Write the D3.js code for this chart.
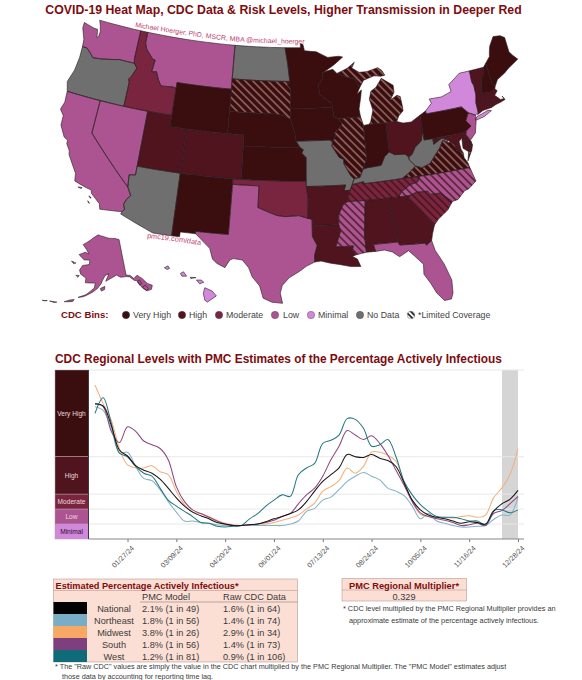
<!DOCTYPE html>
<html>
<head>
<meta charset="utf-8">
<script src="https://cdn.jsdelivr.net/npm/d3@7"></script>
<style>
  html, body { margin: 0; padding: 0; background: #fff; }
  svg { display: block; font-family: "Liberation Sans", Arial, sans-serif; }
</style>
</head>
<body>
<div id="chart"></div>
<script>
// ---------- map data ----------
var binNames = ["Very High", "High", "Moderate", "Low", "Minimal", "No Data"];
var binColors = ["#3a0e0f", "#50141e", "#7a2540", "#ab5491", "#d188da", "#6f6f6f"];

var veryHighStates = ["WY", "NM", "SD", "NE", "KS", "MN", "IA", "WI", "IL", "MI", "IN", "PA", "VA", "NH", "ME"];
var highStates = ["UT", "CO", "AR", "LA", "AL", "GA", "OH", "VT", "MA", "RI", "CT", "DE", "MD", "DC"];
var moderateStates = ["ID", "OK", "TN", "SC"];
var lowStates = ["WA", "CA", "NV", "MT", "TX", "MS", "FL", "NC", "NJ", "AK"];
var minimalStates = ["NY", "HI"];
var noDataStates = ["OR", "AZ", "ND", "MO", "KY", "WV"];
var limitedCoverage = ["SD", "IL", "MI", "VA", "TN", "NC", "SC", "MS"];
var insetStates = ["AK", "HI"];

// rough state outlines, [lon, lat]
var stateOutlines = {
  WA: [[[-124.7,48.4],[-123.2,48.15],[-122.75,48.15],[-122.5,47.4],[-122.35,47.5],[-122.3,48],[-122.5,48.5],[-122.8,49],[-117.03,49],[-117.04,46.4],[-116.92,45.99],[-119,46],[-119.3,45.93],[-121.2,45.65],[-122.3,45.55],[-122.8,45.9],[-123.4,46.25],[-124,46.25],[-124.1,46.9],[-124.7,47.9]]],
  OR: [[[-124,46.25],[-123.4,46.25],[-122.8,45.9],[-122.3,45.55],[-121.2,45.65],[-119.3,45.93],[-119,46],[-116.92,45.99],[-116.47,45.6],[-116.85,44.9],[-117.2,44.45],[-117.03,44.2],[-117.03,42],[-124.2,42],[-124.55,42.85],[-124.1,44],[-123.95,45.2]]],
  CA: [[[-124.2,42],[-120,42],[-120,39],[-114.63,35],[-114.13,34.3],[-114.5,33.9],[-114.72,33.4],[-114.5,33],[-114.72,32.72],[-117.12,32.53],[-117.3,33],[-118.4,33.75],[-118.5,34.03],[-119.2,34.15],[-120.5,34.45],[-120.65,35.15],[-121.9,36.6],[-122,36.95],[-122.5,37.5],[-122.5,37.8],[-123,38],[-123.75,38.95],[-123.8,39.8],[-124.35,40.3],[-124.1,41]],
       [[-120,34],[-119.55,34.05],[-119.6,33.95]],[[-118.6,33.48],[-118.3,33.35],[-118.4,33.3]],[[-118.6,33.02],[-118.35,32.83],[-118.45,32.85]]],
  NV: [[[-120,42],[-114.04,42],[-114.04,36.2],[-114.75,36.1],[-114.63,35],[-120,39]]],
  ID: [[[-117.03,49],[-116.05,49],[-116.05,48],[-115.7,47.45],[-114.7,46.7],[-114.35,46.65],[-114.5,45.55],[-113.9,45.65],[-113.45,44.95],[-113,44.45],[-111.5,44.55],[-111.05,44.48],[-111.05,42],[-117.03,42],[-117.03,44.2],[-117.2,44.45],[-116.85,44.9],[-116.47,45.6],[-116.92,45.99],[-117.04,46.4]]],
  MT: [[[-116.05,49],[-104.05,49],[-104.05,45],[-111.05,45],[-111.05,44.48],[-111.5,44.55],[-113,44.45],[-113.45,44.95],[-113.9,45.65],[-114.5,45.55],[-114.35,46.65],[-114.7,46.7],[-115.7,47.45],[-116.05,48]]],
  WY: [[[-111.05,45],[-104.05,45],[-104.05,41],[-111.05,41]]],
  UT: [[[-114.04,42],[-111.05,42],[-111.05,41],[-109.05,41],[-109.05,37],[-114.04,37]]],
  CO: [[[-109.05,41],[-102.05,41],[-102.05,37],[-109.05,37]]],
  AZ: [[[-114.04,37],[-109.05,37],[-109.05,31.33],[-111.07,31.33],[-114.82,32.5],[-114.72,32.72],[-114.5,33],[-114.72,33.4],[-114.5,33.9],[-114.13,34.3],[-114.63,35],[-114.75,36.1],[-114.04,36.2]]],
  NM: [[[-109.05,37],[-103,37],[-103.05,32],[-106.62,32],[-106.53,31.78],[-108.2,31.78],[-108.2,31.33],[-109.05,31.33]]],
  ND: [[[-104.05,49],[-97.23,49],[-96.85,47.5],[-96.56,45.94],[-104.05,45.94]]],
  SD: [[[-104.05,45.94],[-96.56,45.94],[-96.85,45.6],[-96.45,45.3],[-96.45,43.5],[-96.45,42.5],[-97.2,42.85],[-98.5,43],[-104.05,43]]],
  NE: [[[-104.05,43],[-98.5,43],[-97.2,42.85],[-96.45,42.5],[-96.1,41.7],[-95.9,41.2],[-95.77,40.58],[-95.3,40],[-102.05,40],[-102.05,41],[-104.05,41]]],
  KS: [[[-102.05,40],[-95.3,40],[-94.9,39.8],[-95.1,39.5],[-94.6,39.1],[-94.62,37],[-102.05,37]]],
  OK: [[[-103,37],[-94.62,37],[-94.62,36.5],[-94.43,35.4],[-94.48,33.64],[-95.5,33.9],[-97,33.8],[-97.9,33.9],[-99.2,34.3],[-100,34.56],[-100,36.5],[-103,36.5]]],
  TX: [[[-106.62,32],[-103.05,32],[-103,36.5],[-100,36.5],[-100,34.56],[-99.2,34.3],[-97.9,33.9],[-97,33.8],[-95.5,33.9],[-94.48,33.64],[-94.04,33.55],[-94.04,32],[-93.55,31.2],[-93.85,30.3],[-93.85,29.7],[-94.7,29.35],[-95.5,28.85],[-96.5,28.3],[-97.2,27.6],[-97.4,26.9],[-97.15,25.97],[-98.2,26.05],[-99.1,26.4],[-99.5,27.5],[-100.3,28.3],[-100.7,29.1],[-101.4,29.77],[-102.35,29.85],[-102.7,29.7],[-103.15,28.98],[-104,29.3],[-104.5,29.65],[-104.9,30.6],[-106.53,31.78]]],
  MN: [[[-97.23,49],[-95.15,49],[-95.15,49.38],[-94.8,49.3],[-94.6,48.72],[-93,48.6],[-91.5,48.05],[-90,48.1],[-89.5,48],[-90.8,47.3],[-92.1,46.75],[-92.3,46.65],[-92.3,46.1],[-92.85,45.6],[-92.75,44.75],[-91.25,43.85],[-91.22,43.5],[-96.45,43.5],[-96.45,45.3],[-96.85,45.6],[-96.56,45.94],[-96.85,47.5]]],
  IA: [[[-96.45,43.5],[-91.22,43.5],[-91.1,42.7],[-90.65,42.5],[-90.15,42.1],[-90.3,41.75],[-91.1,41.2],[-91,40.9],[-91.4,40.4],[-91.73,40.6],[-95.77,40.58],[-95.9,41.2],[-96.1,41.7],[-96.45,42.5]]],
  MO: [[[-95.77,40.58],[-91.73,40.6],[-91.4,40.4],[-91.5,40.05],[-90.7,39],[-90.2,38.8],[-90.2,38.4],[-89.5,37.3],[-89.15,37],[-89.4,36.5],[-89.7,36],[-90.37,36],[-90.15,36.5],[-94.62,36.5],[-94.62,37],[-94.6,39.1],[-95.1,39.5],[-94.9,39.8],[-95.3,40]]],
  AR: [[[-94.62,36.5],[-90.15,36.5],[-90.37,36],[-89.7,36],[-90.1,35],[-90.6,34.7],[-91.1,33.9],[-91.17,33],[-94.04,33],[-94.04,33.55],[-94.48,33.64],[-94.43,35.4]]],
  LA: [[[-94.04,33],[-91.17,33],[-91,32.4],[-91.6,31],[-89.75,31],[-89.85,30.65],[-89.5,30.18],[-89.9,30.05],[-89.4,29.8],[-89.1,29.1],[-90.1,29.15],[-91.3,29.4],[-92.2,29.55],[-93.2,29.78],[-93.85,29.7],[-93.85,30.3],[-93.55,31.2],[-94.04,32]]],
  MS: [[[-90.1,35],[-88.2,35],[-88.1,34.9],[-88.47,31.9],[-88.4,30.35],[-89.5,30.18],[-89.85,30.65],[-89.75,31],[-91.6,31],[-91,32.4],[-91.17,33],[-91.1,33.9],[-90.6,34.7]]],
  AL: [[[-88.2,35],[-85.6,35],[-85.18,32.87],[-85,32.3],[-85,31],[-87.6,31],[-87.45,30.35],[-88.4,30.35],[-88.47,31.9],[-88.1,34.9]]],
  GA: [[[-85.6,35],[-83.1,35],[-83.35,34.7],[-82.9,34.45],[-82,33.5],[-81.4,32.6],[-80.9,32.05],[-81.25,31.3],[-81.45,30.72],[-82.05,30.37],[-82.2,30.57],[-84.85,30.7],[-85,31],[-85,32.3],[-85.18,32.87]]],
  FL: [[[-87.6,31],[-85,31],[-84.85,30.7],[-82.2,30.57],[-82.05,30.37],[-81.45,30.72],[-81.25,29.8],[-80.55,28.45],[-80.05,26.9],[-80.15,25.7],[-80.4,25.2],[-81.1,25.15],[-81.75,25.95],[-82.2,26.9],[-82.75,27.8],[-82.65,28.7],[-83.4,29.5],[-84,30.1],[-85,29.65],[-85.7,30.15],[-86.5,30.4],[-87.45,30.35]]],
  SC: [[[-83.35,34.7],[-83.1,35],[-82.3,35.2],[-81.05,35.15],[-80.8,34.82],[-79.67,34.8],[-78.55,33.86],[-79.2,33.2],[-80.4,32.5],[-80.9,32.05],[-81.4,32.6],[-82,33.5],[-82.9,34.45]]],
  NC: [[[-84.32,35],[-83.1,35],[-82.3,35.2],[-81.05,35.15],[-80.8,34.82],[-79.67,34.8],[-78.55,33.86],[-77.9,33.95],[-77,34.6],[-76.5,34.7],[-75.55,35.25],[-75.9,36.55],[-81.68,36.59],[-82,36.1],[-82.9,35.95],[-84,35.4]]],
  TN: [[[-90.1,35],[-84.32,35],[-84,35.4],[-82.9,35.95],[-82,36.1],[-81.68,36.59],[-83.68,36.6],[-88.07,36.5],[-88.07,36.68],[-89.4,36.5],[-89.7,36]]],
  KY: [[[-89.4,36.5],[-88.07,36.68],[-88.07,36.5],[-83.68,36.6],[-82.85,37],[-81.97,37.54],[-82.6,38.17],[-82.6,38.42],[-83,38.73],[-84.2,38.8],[-84.8,39.1],[-85.4,38.73],[-85.9,38],[-86.5,37.95],[-87.5,37.9],[-88.05,37.8],[-88.45,37.1],[-89.15,37]]],
  VA: [[[-83.68,36.6],[-81.68,36.59],[-75.9,36.55],[-76,37],[-76.3,37.5],[-76.3,37.95],[-77,38.3],[-77.05,38.84],[-77.5,39.1],[-77.83,39.13],[-78.35,39.4],[-78.87,38.77],[-79.3,38.42],[-80.3,37.55],[-81.3,37.3],[-81.97,37.54],[-82.85,37]],
       [[-75.95,37.15],[-75.6,37.6],[-75.25,38.03],[-75.65,37.95]]],
  WV: [[[-82.6,38.42],[-82.6,38.17],[-81.97,37.54],[-81.3,37.3],[-80.3,37.55],[-79.3,38.42],[-78.87,38.77],[-78.35,39.4],[-77.83,39.13],[-77.72,39.32],[-78.4,39.62],[-79.48,39.2],[-79.48,39.72],[-80.52,39.72],[-80.52,40.64],[-80.85,39.7],[-81.7,39.2],[-82.2,38.6]]],
  OH: [[[-84.8,39.1],[-84.2,38.8],[-83,38.73],[-82.6,38.42],[-82.2,38.6],[-81.7,39.2],[-80.85,39.7],[-80.52,40.64],[-80.52,41.98],[-81.7,41.5],[-82.7,41.5],[-83.45,41.73],[-84.8,41.7]]],
  IN: [[[-88.05,37.8],[-87.5,37.9],[-86.5,37.95],[-85.9,38],[-85.4,38.73],[-84.8,39.1],[-84.8,41.7],[-86.8,41.76],[-87.52,41.7],[-87.53,39.35],[-87.5,38.7]]],
  IL: [[[-91.5,40.05],[-91.4,40.4],[-91,40.9],[-91.1,41.2],[-90.3,41.75],[-90.15,42.1],[-90.65,42.5],[-87.8,42.5],[-87.52,41.7],[-87.53,39.35],[-87.5,38.7],[-88.05,37.8],[-88.45,37.1],[-89.15,37],[-89.5,37.3],[-90.2,38.4],[-90.2,38.8],[-90.7,39]]],
  WI: [[[-92.75,44.75],[-92.85,45.6],[-92.3,46.1],[-92.3,46.65],[-92.1,46.75],[-90.9,46.95],[-90.4,46.55],[-89.1,46.15],[-88.1,45.9],[-87.6,45.1],[-88,44.55],[-87.4,44.9],[-87.55,44.3],[-87.9,43.2],[-87.8,42.5],[-90.65,42.5],[-91.1,42.7],[-91.22,43.5],[-91.25,43.85]]],
  MI: [[[-86.8,41.76],[-84.8,41.7],[-83.45,41.73],[-83.1,42.2],[-82.5,42.6],[-82.5,43],[-82.6,43.9],[-83,44.05],[-83.9,43.7],[-83.3,44.35],[-83.3,45],[-84.7,45.75],[-85.5,45],[-86.2,44.7],[-86.5,44],[-86.2,43],[-86.6,42]],
       [[-90.4,46.55],[-89.1,46.15],[-88.1,45.9],[-87.6,45.1],[-87,45.75],[-85.6,46.05],[-84.7,45.95],[-84.2,46],[-84.5,46.45],[-85,46.75],[-86.5,46.5],[-87.5,46.5],[-88.4,46.95],[-88,47.45],[-89,46.95]]],
  PA: [[[-80.52,39.72],[-75.79,39.72],[-75.42,39.8],[-75.1,39.95],[-74.72,40.15],[-75.2,40.7],[-74.7,41.36],[-75.35,42],[-79.76,42],[-79.76,42.27],[-80.52,41.98]]],
  NY: [[[-79.76,42],[-75.35,42],[-74.7,41.36],[-73.9,41],[-73.5,41.2],[-73.5,42.05],[-73.27,42.75],[-73.25,43.6],[-73.4,44],[-73.35,45],[-74.7,45],[-76.3,44.2],[-76.2,43.55],[-77.5,43.25],[-79.05,43.27],[-78.9,42.85],[-79.76,42.27]],
       [[-74.05,40.6],[-73.75,40.85],[-72.3,41.15],[-71.9,41.05],[-72.9,40.7],[-73.9,40.55]]],
  NJ: [[[-75.42,39.8],[-75.55,39.5],[-75.1,38.95],[-74.4,39.45],[-74,40.45],[-73.9,41],[-74.7,41.36],[-75.2,40.7],[-74.72,40.15],[-75.1,39.95]]],
  DE: [[[-75.79,39.72],[-75.42,39.8],[-75.55,39.5],[-75.1,38.8],[-75.05,38.45],[-75.7,38.46]]],
  MD: [[[-79.48,39.72],[-75.79,39.72],[-75.7,38.46],[-75.05,38.45],[-75.25,38.03],[-75.65,37.95],[-76.2,38.35],[-76.1,39.3],[-76.5,39],[-76.45,38.3],[-76.3,37.95],[-77,38.3],[-77.05,38.84],[-77.5,39.1],[-77.72,39.32],[-78.4,39.62],[-79.48,39.2]]],
  DC: [[[-77.12,38.93],[-77.04,39],[-76.91,38.89],[-77.04,38.79]]],
  CT: [[[-73.5,42.05],[-71.8,42.02],[-71.8,41.32],[-72.9,41.25],[-73.65,41],[-73.5,41.2]]],
  RI: [[[-71.8,42.02],[-71.38,42.02],[-71.12,41.5],[-71.8,41.32]]],
  MA: [[[-73.5,42.05],[-73.27,42.75],[-71.3,42.7],[-70.82,42.87],[-70.6,42.65],[-71.05,42.3],[-70.65,41.95],[-70.5,41.8],[-70.05,41.8],[-70.2,42.07],[-69.95,41.7],[-70.65,41.55],[-71.12,41.5],[-71.38,42.02],[-71.8,42.02]]],
  VT: [[[-73.35,45],[-71.5,45],[-71.6,44.5],[-72.05,44.1],[-72.45,43],[-72.46,42.73],[-73.27,42.75],[-73.25,43.6],[-73.4,44]]],
  NH: [[[-71.5,45],[-71.08,45.3],[-70.98,43.4],[-70.7,43.07],[-70.82,42.87],[-71.3,42.7],[-72.46,42.73],[-72.45,43],[-72.05,44.1],[-71.6,44.5]]],
  ME: [[[-71.08,45.3],[-70.4,45.8],[-70.25,46.2],[-70,46.7],[-69.23,47.45],[-68.3,47.35],[-67.8,47.07],[-67.8,45.7],[-67.45,45.3],[-67,44.85],[-68.5,44.3],[-69.1,44],[-70.2,43.6],[-70.7,43.07],[-70.98,43.4]]],
  AK: [[[-141,69.65],[-143.5,70.1],[-148.5,70.4],[-152,70.85],[-156.6,71.35],[-160,70.5],[-163,69.5],[-166.7,68.35],[-163.8,67.2],[-162,66.2],[-164.5,66.5],[-168,65.6],[-164.5,64.5],[-161,64.6],[-161,63.5],[-164.8,63],[-166,61.7],[-165,60.7],[-162,59.9],[-162,58.7],[-158.5,58.8],[-157,58.8],[-157.5,57.5],[-161,55.7],[-164.5,54.7],[-162,55.1],[-158,56.5],[-156,57.4],[-154,58.8],[-153.5,59.5],[-152,60.8],[-150,61.2],[-151.8,59.3],[-149,60],[-146,60.7],[-144,60],[-141,59.9],[-139.5,59.7],[-137.5,58.5],[-136,58.2],[-135.5,57],[-134.5,55.9],[-133,55],[-131,55],[-130,55.9],[-131.9,56.8],[-133.5,58.4],[-135.5,59.6],[-137.5,59],[-139,60],[-141,60.3]],
       [[-154.5,57.5],[-152.3,58],[-152.5,57.2],[-154,56.8]],[[-171.5,63.5],[-168.8,63.3],[-170,63]],[[-167.4,60.2],[-165.7,60.3],[-166.2,59.8]],
       [[-170,52.9],[-168,53.6],[-166,54],[-166.5,53.4]],[[-176,52],[-173,52.3],[-174,52]],[[-179,51.5],[-177,51.9],[-178,51.6]],
       [[-134.5,56.3],[-133,56.5],[-132.2,55.5],[-133.2,55.1],[-133.8,55.5]],[[-136.3,58],[-135,58.3],[-134.5,57.2],[-135.6,57]]],
  HI: [[[-155.9,20.25],[-155.2,19.95],[-154.8,19.5],[-155.65,18.95],[-155.9,19.1],[-156.05,19.75]],
       [[-156.7,20.95],[-156.25,20.95],[-156,20.75],[-156.4,20.6]],[[-158.25,21.55],[-157.95,21.7],[-157.65,21.3],[-158.1,21.3]],
       [[-159.8,22.05],[-159.45,22.23],[-159.3,22],[-159.55,21.9]],[[-157.3,21.2],[-156.75,21.17],[-157.25,21.08]]]
};

// ---------- trend data, CDC wastewater level per week ----------
var firstWeek = new Date(2023, 11, 30);
var tickDates = ["01/27/24", "03/09/24", "04/20/24", "06/01/24", "07/13/24", "08/24/24", "10/05/24", "11/16/24", "12/28/24"];

var nationalLevels = [18.1,17.8,15.2,11.9,11.1,9.8,9.2,8.8,8.0,6.8,5.5,4.4,3.6,3.1,2.7,2.2,2.0,1.8,1.8,1.9,2.0,2.3,2.7,3.0,3.4,3.9,5.0,6.4,7.7,8.6,9.5,11.3,11.0,10.9,11.3,10.8,10.5,9.7,7.5,5.2,3.9,3.2,2.9,2.7,2.4,2.1,2.3,2.2,2.0,3.7,4.7,5.3,6.5];
var northeastLevels = [17.7,17.2,14.8,11.5,11.6,9.7,8.1,7.8,6.6,5.0,3.6,2.4,2.4,2.2,2.1,1.9,1.8,1.8,1.8,1.8,1.8,1.8,1.8,1.8,2.0,2.4,3.7,4.1,5.2,5.6,6.6,7.7,8.4,8.9,8.4,7.9,6.8,6.4,5.8,4.4,2.7,3.4,2.4,2.1,1.8,1.6,1.6,1.7,1.8,2.6,3.2,3.2,5.6];
var midwestLevels = [20.6,18.1,15.9,12.1,9.9,9.5,9.5,9.8,9.0,8.6,6.4,4.6,3.6,3.4,3.0,2.5,2.1,1.9,1.8,1.9,2.0,2.0,2.2,2.5,2.8,3.2,4.0,4.8,6.4,7.0,7.8,9.5,8.8,9.7,11.6,11.6,11.2,10.4,7.5,5.0,3.3,3.0,2.8,2.9,2.8,3.0,3.1,2.9,3.2,5.5,6.8,8.6,12.1];
var southLevels = [18.1,17.7,14.4,12.9,15.0,14.4,13.1,12.6,12.1,10.6,7.0,5.0,3.9,3.4,2.9,2.4,2.0,1.8,1.8,1.9,2.0,2.2,2.5,3.0,3.4,4.7,5.9,6.8,8.4,10.6,12.4,14.5,13.9,13.3,13.8,12.8,11.2,9.2,7.2,5.0,3.5,3.0,2.7,2.5,2.2,1.8,1.9,2.1,1.8,3.4,3.8,4.7,5.7];
var westLevels = [16.8,18.9,15.5,11.5,11.0,9.7,8.8,8.4,6.8,5.2,4.4,3.7,3.0,2.2,2.1,1.7,1.6,1.7,1.8,2.7,3.4,4.4,5.2,5.9,5.7,8.6,9.5,10.1,12.8,13.2,13.9,16.1,16.0,14.8,12.4,12.6,13.3,11.0,7.7,5.9,4.6,3.7,3.0,2.9,2.9,2.7,2.4,2.4,1.9,3.8,3.9,3.5,3.9];

var lineNames = ["Northeast", "Midwest", "South", "West", "National"];
var lineColors = ["#83b3c6", "#f3b07c", "#8a4a84", "#24797f", "#1c1416"];
var lineLevels = [northeastLevels, midwestLevels, southLevels, westLevels, nationalLevels];

var levelBreaks = [22.6, 11, 6, 4, 2, 0];
var levelNames = ["Very High", "High", "Moderate", "Low", "Minimal"];

// ---------- table data ----------
var regionNames = ["National", "Northeast", "Midwest", "South", "West"];
var regionColors = ["#000000", "#78aec5", "#f6a864", "#7f3f7e", "#0f6b78"];
var pmcModelText = ["2.1% (1 in 49)", "1.8% (1 in 56)", "3.8% (1 in 26)", "1.8% (1 in 56)", "1.2% (1 in 81)"];
var rawCdcText = ["1.6% (1 in 64)", "1.4% (1 in 74)", "2.9% (1 in 34)", "1.4% (1 in 73)", "0.9% (1 in 106)"];

var darkRed = "#7d0c10";
var bodyText = "#3a3a3a";

var svg = d3.select("#chart").append("svg").attr("width", 582).attr("height", 680);

function addText(x, y, txt, size, color, weight, anchor)
{
    return svg.append("text").attr("x", x).attr("y", y).text(txt)
        .attr("font-size", size).attr("fill", color)
        .attr("font-weight", weight || "normal")
        .attr("text-anchor", anchor || "start");
}

// ---------- hatch patterns ----------
var defs = svg.append("defs");
function addHatch(id, color, width)
{
    defs.append("pattern").attr("id", id)
        .attr("patternUnits", "userSpaceOnUse").attr("width", 5.4).attr("height", 5.4)
        .attr("patternTransform", "rotate(45)")
      .append("line").attr("x1", 0).attr("x2", 5.4).attr("y1", 2.7).attr("y2", 2.7)
        .attr("stroke", color).attr("stroke-width", width);
}
addHatch("hatchLight", "#c49a92", 1);
addHatch("hatchDark", "#3a0e0f", 1.2);

// ---------- map ----------
addText(283.5, 14, "COVID-19 Heat Map, CDC Data & Risk Levels, Higher Transmission in Deeper Red", 12.3, darkRed, "bold", "middle");

var binLists = [veryHighStates, highStates, moderateStates, lowStates, minimalStates, noDataStates];
function binOf(code)
{
    return binLists.findIndex(function (list) { return list.indexOf(code) >= 0; });
}

// long straight borders have to follow the parallels, so add points along them
function densify(ring)
{
    var out = [];
    ring.forEach(function (p, i) {
        var q = ring[(i + 1) % ring.length];
        var n = Math.max(1, Math.ceil(Math.abs(q[0] - p[0])));
        d3.range(n).forEach(function (k) {
            out.push([p[0] + (q[0] - p[0]) * k / n, p[1] + (q[1] - p[1]) * k / n]);
        });
    });
    out.push(out[0]);
    return out;
}

function ringFeature(ring)
{
    var poly = {type: "Polygon", coordinates: [densify(ring)]};
    if (d3.geoArea(poly) > 2 * Math.PI) poly.coordinates[0].reverse();
    return poly;
}

var stateFeatures = Object.keys(stateOutlines).map(function (code) {
    return {
        type: "Feature",
        properties: {code: code, bin: binOf(code)},
        geometry: {type: "GeometryCollection", geometries: stateOutlines[code].map(ringFeature)}
    };
});

var mainPath = d3.geoPath(d3.geoAlbersUsa().scale(634).translate([289, 162]));
var insetPath = d3.geoPath(d3.geoAlbersUsa().scale(634).translate([292, 157]));
function statePath(d)
{
    return insetStates.indexOf(d.properties.code) >= 0 ? insetPath(d) : mainPath(d);
}

var mapLayer = svg.append("g");

mapLayer.selectAll("path.state").data(stateFeatures).join("path")
    .attr("class", "state")
    .attr("d", statePath)
    .attr("fill", function (d) { return binColors[d.properties.bin]; });

mapLayer.selectAll("path.hatch")
    .data(stateFeatures.filter(function (d) { return limitedCoverage.indexOf(d.properties.code) >= 0; }))
    .join("path")
    .attr("class", "hatch")
    .attr("d", statePath)
    .attr("fill", function (d) { return d.properties.bin === 0 ? "url(#hatchLight)" : "url(#hatchDark)"; });

mapLayer.selectAll("path.border").data(stateFeatures).join("path")
    .attr("class", "border")
    .attr("d", statePath)
    .attr("fill", "none")
    .attr("stroke", "#2a1a1c")
    .attr("stroke-width", 0.6)
    .attr("stroke-linejoin", "round");

// credit lines on the map
var creditCurve = d3.line().curve(d3.curveBasis);
defs.append("path").attr("id", "creditPath").attr("d", creditCurve([[135, 27], [185, 35], [240, 43], [312, 44]]));
defs.append("path").attr("id", "siteCurve").attr("d", creditCurve([[147, 238], [175, 241], [205, 246]]));
svg.append("text").attr("font-size", 6.9).attr("fill", "#c0406e")
  .append("textPath").attr("href", "#creditPath").text("Michael Hoerger, PhD, MSCR, MBA @michael_hoerger");
svg.append("text").attr("font-size", 7.3).attr("fill", "#c0406e")
  .append("textPath").attr("href", "#siteCurve").text("pmc19.com/data");

// legend
addText(61, 318, "CDC Bins:", 9.6, darkRed, "bold");
var legendDots = [126, 182, 219, 275, 311, 360];
var legendText = [133, 189, 226, 283, 318, 367];
binNames.forEach(function (name, i) {
    svg.append("circle").attr("cx", legendDots[i]).attr("cy", 315).attr("r", 3.7)
        .attr("fill", binColors[i]).attr("stroke", "#444").attr("stroke-width", 0.4);
    addText(legendText[i], 318, name, 8.8, "#444");
});
defs.append("pattern").attr("id", "hatchKey")
    .attr("patternUnits", "userSpaceOnUse").attr("width", 3.6).attr("height", 3.6)
    .attr("patternTransform", "rotate(45)")
  .append("line").attr("x1", 0).attr("x2", 3.6).attr("y1", 1.8).attr("y2", 1.8)
    .attr("stroke", "#222").attr("stroke-width", 1.7);
svg.append("circle").attr("cx", 411).attr("cy", 315).attr("r", 3.8)
    .attr("fill", "url(#hatchKey)").attr("stroke", "#555").attr("stroke-width", 0.4);
addText(418, 318, "*Limited Coverage", 8.8, "#444");

// ---------- trend chart ----------
addText(55, 363, "CDC Regional Levels with PMC Estimates of the Percentage Actively Infectious", 11.9, darkRed, "bold");

var plot = {left: 88.5, right: 524, top: 370, bottom: 539};
var weekDates = nationalLevels.map(function (v, i) { return d3.timeDay.offset(firstWeek, 7 * i); });
var parseTick = d3.timeParse("%m/%d/%y");
var formatTick = d3.timeFormat("%m/%d/%y");

var x = d3.scaleTime().domain([firstWeek, weekDates[weekDates.length - 1]]).range([95, 518]);
var y = d3.scaleLinear().domain([0, 22.6]).range([plot.bottom, plot.top]);

// level blocks on the left
levelNames.forEach(function (name, i) {
    var top = y(levelBreaks[i]), bottom = y(levelBreaks[i + 1]);
    svg.append("rect").attr("x", 55).attr("width", plot.left - 55)
        .attr("y", top).attr("height", bottom - top)
        .attr("fill", binColors[i])
        .attr("stroke", "#b69aa4").attr("stroke-width", 0.5);
    addText(71.5, (top + bottom) / 2 + 2.5, name, 6.6, i === 4 ? "#2a1030" : "#ead9dc", "normal", "middle");
});

// recent weeks still being revised
svg.append("rect").attr("x", 502).attr("width", 16)
    .attr("y", plot.top).attr("height", plot.bottom - plot.top)
    .attr("fill", "#d5d5d5");

svg.append("g").selectAll("line").data(levelBreaks.slice(0, 5)).join("line")
    .attr("x1", plot.left).attr("x2", plot.right)
    .attr("y1", function (d) { return y(d); }).attr("y2", function (d) { return y(d); })
    .attr("stroke", "#e8e8ea").attr("stroke-width", 1);

var trendLine = d3.line()
    .x(function (d, i) { return x(weekDates[i]); })
    .y(function (d) { return y(d); })
    .curve(d3.curveCatmullRom.alpha(0.5));

svg.append("g").selectAll("path").data(lineLevels).join("path")
    .attr("d", trendLine)
    .attr("fill", "none")
    .attr("stroke", function (d, i) { return lineColors[i]; })
    .attr("stroke-width", 1.05)
    .attr("aria-label", function (d, i) { return lineNames[i]; });

var xAxis = d3.axisBottom(x)
    .tickValues(tickDates.map(parseTick))
    .tickFormat(formatTick)
    .tickSize(3);

var axisG = svg.append("g").attr("transform", "translate(0," + plot.bottom + ")").call(xAxis);
axisG.select(".domain").remove();
axisG.selectAll("line").attr("stroke", "#777");
axisG.selectAll("text")
    .attr("font-family", "Liberation Sans, Arial, sans-serif")
    .attr("font-size", 7.2).attr("fill", "#555")
    .attr("text-anchor", "end")
    .attr("transform", "rotate(-45)")
    .attr("dx", "-0.3em").attr("dy", "0.75em");

svg.append("line").attr("x1", plot.left).attr("x2", plot.right).attr("y1", plot.bottom).attr("y2", plot.bottom)
    .attr("stroke", "#888").attr("stroke-width", 1.2);
svg.append("line").attr("x1", plot.left).attr("x2", plot.left).attr("y1", plot.top).attr("y2", plot.bottom)
    .attr("stroke", "#3f3a44").attr("stroke-width", 1);

// ---------- estimates table ----------
var tablePink = "#fcdfd4";
var tableEdge = "#b89a90";
svg.append("rect").attr("x", 53.5).attr("y", 579).attr("width", 244).attr("height", 83)
    .attr("fill", tablePink).attr("stroke", tableEdge).attr("stroke-width", 0.6);
svg.append("line").attr("x1", 53.5).attr("x2", 297.5).attr("y1", 590.5).attr("y2", 590.5).attr("stroke", tableEdge).attr("stroke-width", 0.6);
svg.append("line").attr("x1", 140).attr("x2", 297.5).attr("y1", 602).attr("y2", 602).attr("stroke", "#8a7a74").attr("stroke-width", 0.6);
addText(55.5, 588.5, "Estimated Percentage Actively Infectious*", 9.2, darkRed, "bold");
addText(142, 600, "PMC Model", 9.2, bodyText);
addText(223, 600, "Raw CDC Data", 9.2, bodyText);

var rowY = d3.scaleBand().domain(regionNames).range([602, 662]);
regionNames.forEach(function (name, i) {
    var top = rowY(name);
    svg.append("rect").attr("x", 53.5).attr("y", top).attr("width", 33.5).attr("height", rowY.bandwidth())
        .attr("fill", regionColors[i]);
    addText(114, top + 9.6, name, 9.2, bodyText, "normal", "middle");
    addText(142, top + 9.6, pmcModelText[i], 9.2, bodyText);
    addText(223, top + 9.6, rawCdcText[i], 9.2, bodyText);
});

// ---------- multiplier box ----------
svg.append("rect").attr("x", 342).attr("y", 578.5).attr("width", 124.5).attr("height", 22.5)
    .attr("fill", tablePink).attr("stroke", tableEdge).attr("stroke-width", 0.6);
svg.append("line").attr("x1", 342).attr("x2", 466.5).attr("y1", 590).attr("y2", 590).attr("stroke", tableEdge).attr("stroke-width", 0.6);
addText(404, 588.5, "PMC Regional Multiplier*", 9.3, darkRed, "bold", "middle");
addText(404, 599.5, "0.329", 9.2, bodyText, "normal", "middle");

addText(343, 611, "* CDC level multiplied by the PMC Regional Multiplier provides an", 7.3, bodyText);
addText(349, 623, "approximate estimate of the percentage actively infectious.", 7.3, bodyText);
addText(55, 669, "* The \"Raw CDC\" values are simply the value in the CDC chart multiplied by the PMC Regional Multiplier. The \"PMC Model\" estimates adjust", 7.25, bodyText);
addText(62, 679, "those data by accounting for reporting time lag.", 7.25, bodyText);
</script>
</body>
</html>
